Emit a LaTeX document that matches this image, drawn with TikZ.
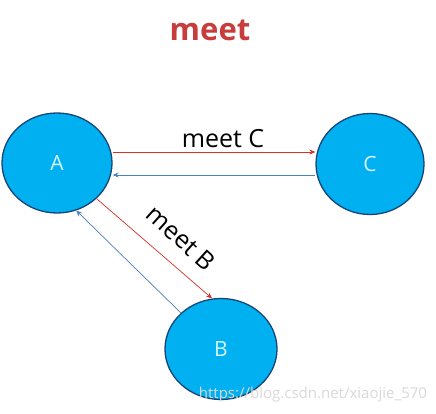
\documentclass[tikz,border=0pt]{standalone}
\usepackage{fontspec}
\setmainfont{Open Sans}
\usetikzlibrary{shapes.geometric,arrows.meta}
\definecolor{nodefill}{RGB}{0,176,240}
\definecolor{nodeline}{RGB}{22,70,120}
\definecolor{redarrow}{RGB}{214,50,40}
\definecolor{bluearrow}{RGB}{70,130,190}
\definecolor{titlered}{RGB}{200,60,60}
\definecolor{labelwhite}{RGB}{215,245,255}
\tikzset{
  actor/.style={ellipse, draw=nodeline, line width=1.3pt, fill=nodefill, text=labelwhite, inner sep=0pt, font=\fontsize{21}{25}\selectfont},
  req/.style={draw=redarrow, line width=0.7pt, -{Stealth[length=6pt,width=5pt]}},
  resp/.style={draw=bluearrow, line width=0.7pt, -{Stealth[length=6pt,width=5pt]}},
  lbl/.style={font=\fontsize{25}{29}\selectfont, text=black, inner sep=1pt}
}
\begin{document}
\begin{tikzpicture}[x=1pt,y=1pt]
\useasboundingbox[fill=white] (0,0) rectangle (436,413);
\node[font=\bfseries\fontsize{31}{35}\selectfont, text=titlered] (title) at (210,383) {meet};
\node[actor, minimum width=110pt, minimum height=100pt] (A) at (57,250) {A};
\node[actor, minimum width=108pt, minimum height=101pt] (C) at (370,249) {C};
\node[actor, minimum width=112pt, minimum height=101pt] (B) at (221,64) {B};
\draw[req] (A.east |- 0,261) -- (C.west |- 0,261);
\node[lbl] (lc) at (223,274) {meet C};
\draw[resp] (C.west |- 0,238) -- (A.east |- 0,238);
\draw[req] (A.-42) -- (B.100);
\node[lbl, rotate=-42] (lb) at (181,175) {meet B};
\draw[resp] (B.138) -- (A.-68);
\node[font=\fontsize{15}{18}\selectfont, text=black!15] (wm) at (313,18) {https://blog.csdn.net/xiaojie\_570};
\end{tikzpicture}
\end{document}
